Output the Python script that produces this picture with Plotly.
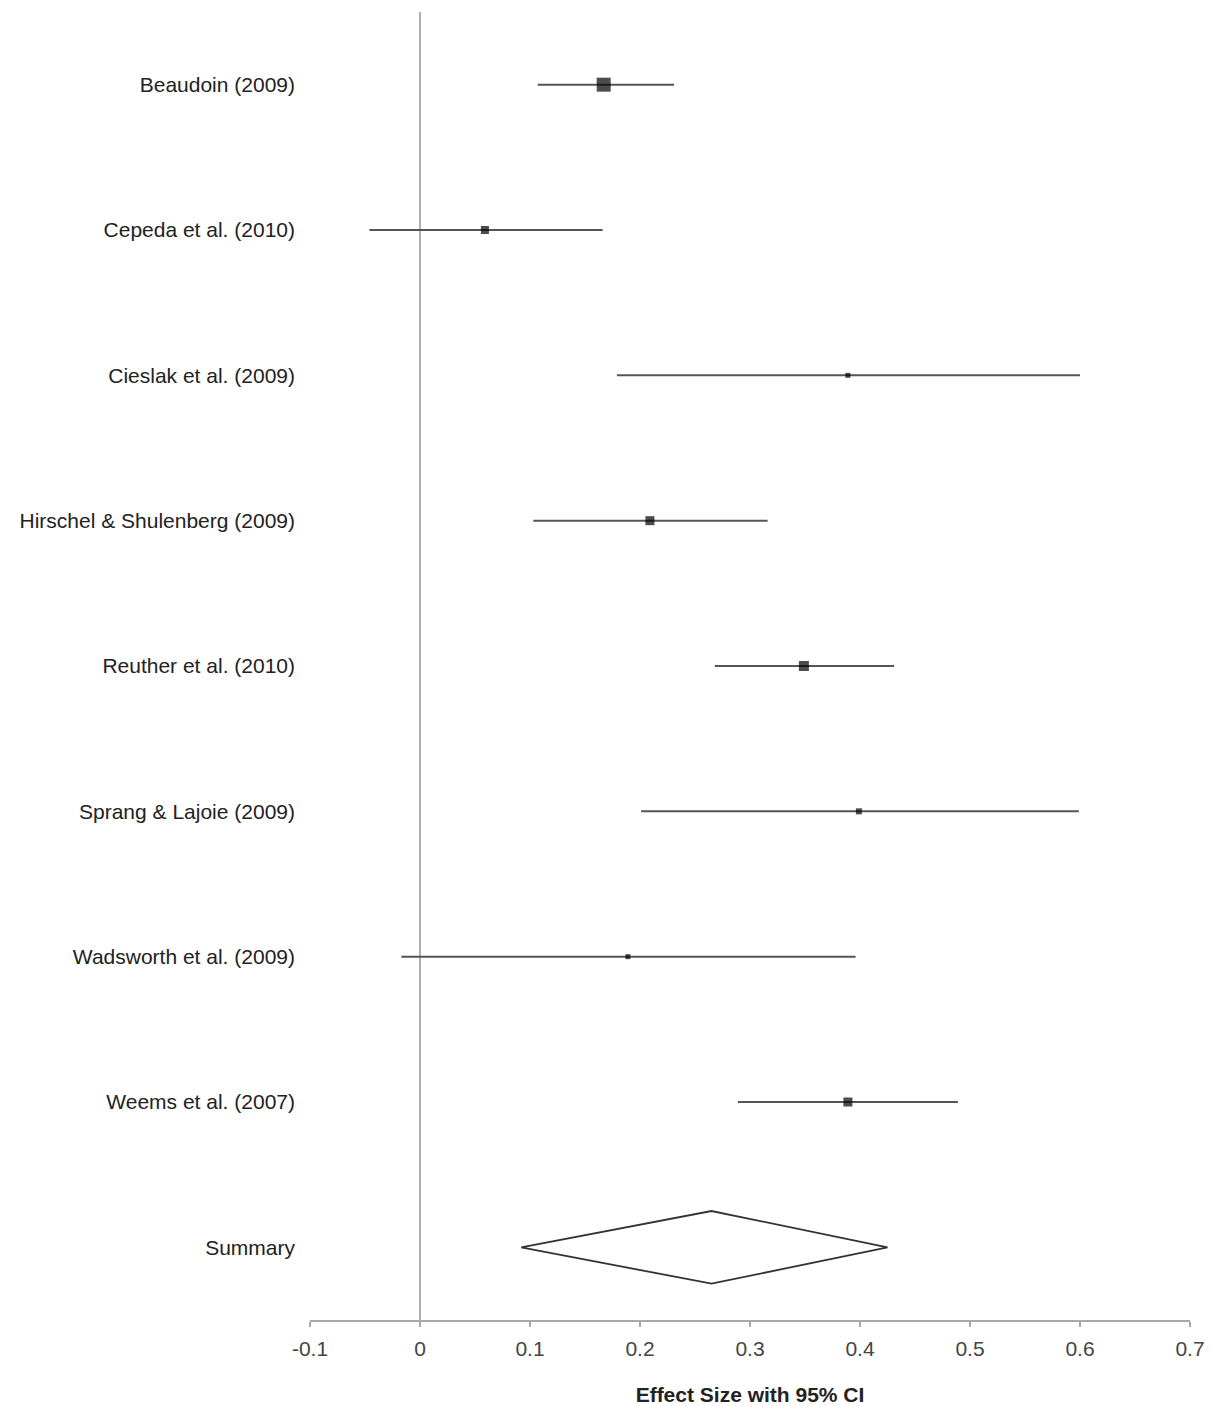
import plotly.graph_objects as go

studies = ["Beaudoin (2009)", "Cepeda et al. (2010)", "Cieslak et al. (2009)",
           "Hirschel & Shulenberg (2009)", "Reuther et al. (2010)",
           "Sprang & Lajoie (2009)", "Wadsworth et al. (2009)", "Weems et al. (2007)"]
effect = [0.167, 0.059, 0.389, 0.209, 0.349, 0.399, 0.189, 0.389]
ci_low = [0.107, -0.046, 0.179, 0.103, 0.268, 0.201, -0.017, 0.289]
ci_high = [0.231, 0.166, 0.600, 0.316, 0.431, 0.599, 0.396, 0.489]
weights = [14, 8, 5, 9, 10, 6, 5, 9]
summary_label = "Summary"
summary_effect = 0.265
summary_low = 0.092
summary_high = 0.425
x_ticks = [-0.1, 0, 0.1, 0.2, 0.3, 0.4, 0.5, 0.6, 0.7]
x_tick_labels = ["-0.1", "0", "0.1", "0.2", "0.3", "0.4", "0.5", "0.6", "0.7"]

fig = go.Figure()
rows = list(range(len(studies)))
for i in rows:
    fig.add_trace(go.Scatter(x=[ci_low[i], ci_high[i]], y=[i, i], mode="lines",
                             line=dict(color="#555555", width=2), showlegend=False,
                             hoverinfo="skip"))
fig.add_trace(go.Scatter(x=effect, y=rows, mode="markers",
                         marker=dict(symbol="square", size=weights, color="black",
                                     line=dict(width=0)),
                         showlegend=False))
sy = len(studies)
fig.add_trace(go.Scatter(
    x=[summary_low, summary_effect, summary_high, summary_effect, summary_low],
    y=[sy, sy - 0.25, sy, sy + 0.25, sy],
    mode="lines", fill="toself", fillcolor="white",
    line=dict(color="#333333", width=1.8), showlegend=False))

fig.update_layout(
    width=1210, height=1406,
    margin=dict(l=310, r=20, t=12, b=86),
    paper_bgcolor="white", plot_bgcolor="white",
    font=dict(family="Liberation Sans, Arial", color="#333333"),
    xaxis=dict(range=[-0.1, 0.7], tickvals=x_ticks, ticktext=x_tick_labels,
               automargin=False,
               showgrid=False, zeroline=True, zerolinecolor="#b0b0b0", zerolinewidth=1.5,
               showline=True, linecolor="#a8a8a8", linewidth=2,
               ticks="outside", ticklen=5, tickcolor="#a8a8a8", tickwidth=2,
               ticklabelstandoff=4, ticklabeloverflow="allow",
               tickfont=dict(size=21, color="#444444"),
               title=dict(text="<b>Effect Size with 95% CI</b>", standoff=28,
                          font=dict(size=21, color="#222222"))),
    yaxis=dict(range=[sy + 0.5, -0.5], tickvals=rows + [sy],
               ticktext=studies + [summary_label], automargin=False,
               showgrid=False, zeroline=False, showline=False, ticks="",
               ticklabelstandoff=14,
               tickfont=dict(size=21, color="#222222")),
)
fig.write_html("out.html", config={"displayModeBar": False},
               post_script="document.body.style.margin='0';document.body.style.overflow='hidden';")
